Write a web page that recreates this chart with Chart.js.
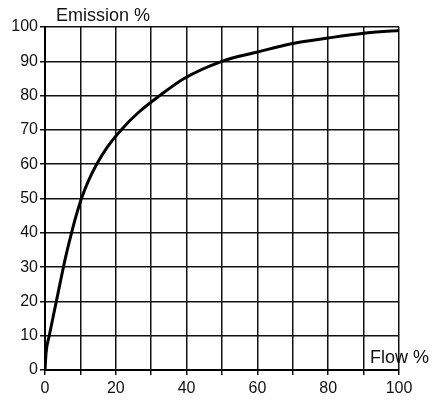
<!DOCTYPE html>
<html>
<head>
<meta charset="utf-8">
<script src="https://cdn.jsdelivr.net/npm/chart.js@4.4.1/dist/chart.umd.min.js"></script>
<style>
	html, body { margin: 0; padding: 0; background: #fff; }
	#wrap { width: 437px; height: 401px; }
</style>
</head>
<body>
<div id="wrap"><canvas id="emChart" width="437" height="401"></canvas></div>
<script>
// values
const flowPct = [0, 0.3, 1.2, 2.2, 3.2, 4.2, 5.2, 6.3, 7.5, 8.8, 10.3, 12.2, 14.6, 17.6, 21.5, 26.3, 32.4, 39.3, 50, 60, 70, 80, 90, 100];
const emissionPct = [0, 5, 10, 15, 20, 25, 30, 35, 40, 45, 50, 55, 60, 65, 70, 75, 80, 85, 90, 92.7, 95.2, 96.8, 98.2, 99];
const xTickLabels = [0, 20, 40, 60, 80, 100];
const yTickLabels = [0, 10, 20, 30, 40, 50, 60, 70, 80, 90, 100];

const FONT = { family: '"Liberation Sans", Arial, sans-serif', size: 16 };

// axis titles drawn at the ends of the axes
const axisTitles = {
	id: 'axisTitles',
	afterDraw(chart) {
		const ctx = chart.ctx;
		const area = chart.chartArea;
		ctx.save();
		ctx.fillStyle = '#111';
		ctx.font = '18px ' + FONT.family;
		ctx.textBaseline = 'alphabetic';
		ctx.textAlign = 'left';
		ctx.fillText('Emission %', area.left + 11, area.top - 6);
		ctx.fillText('Flow %', area.right - 29, area.bottom - 7);
		ctx.restore();
	}
};

const points = flowPct.map((x, i) => ({ x: x, y: emissionPct[i] }));

new Chart(document.getElementById('emChart'), {
	type: 'scatter',
	data: {
		datasets: [{
			data: points,
			showLine: true,
			borderColor: '#000',
			borderWidth: 3,
			pointRadius: 0,
			cubicInterpolationMode: 'monotone',
			fill: false
		}]
	},
	options: {
		responsive: false,
		animation: false,
		layout: { padding: { top: 27, right: 38, left: 0, bottom: 0 } },
		plugins: {
			legend: { display: false },
			tooltip: { enabled: false }
		},
		scales: {
			x: {
				type: 'linear',
				min: 0,
				max: 100,
				afterFit: (s) => { s.height = 31; },
				border: { color: '#000', width: 2 },
				grid: { color: '#111', lineWidth: 1.5, tickLength: 5, drawTicks: true },
				ticks: {
					stepSize: 10,
					color: '#111',
					font: FONT,
					padding: 4,
					maxRotation: 0,
					callback: (v) => xTickLabels.includes(v) ? String(v) : ''
				}
			},
			y: {
				type: 'linear',
				min: 0,
				max: 100,
				afterFit: (s) => { s.width = 45; },
				border: { color: '#000', width: 2 },
				grid: { color: '#111', lineWidth: 1.5, tickLength: 5, drawTicks: true },
				ticks: {
					stepSize: 5,
					color: '#111',
					font: FONT,
					padding: 2,
					callback: (v) => yTickLabels.includes(v) ? String(v) : ''
				}
			}
		}
	},
	plugins: [axisTitles]
});
</script>
</body>
</html>
